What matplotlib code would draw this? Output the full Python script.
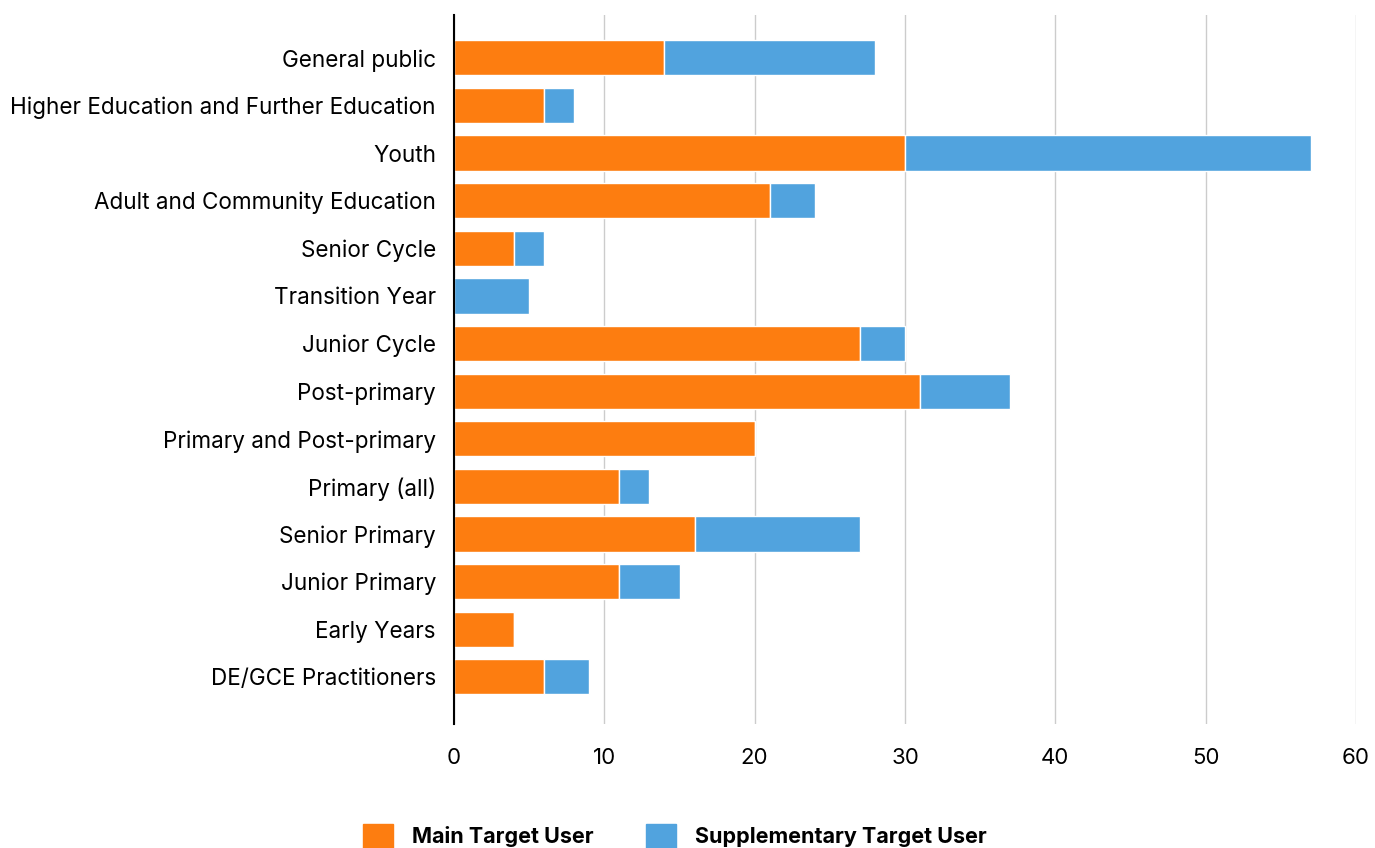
import matplotlib.pyplot as plt
from matplotlib.patches import Patch

plt.rcParams['font.family'] = ['Inter', 'DejaVu Sans']

categories = [
    "General public",
    "Higher Education and Further Education",
    "Youth",
    "Adult and Community Education",
    "Senior Cycle",
    "Transition Year",
    "Junior Cycle",
    "Post-primary",
    "Primary and Post-primary",
    "Primary (all)",
    "Senior Primary",
    "Junior Primary",
    "Early Years",
    "DE/GCE Practitioners",
]
main_users = [14, 6, 30, 21, 4, 0, 27, 31, 20, 11, 16, 11, 4, 6]
supp_users = [14, 2, 27, 3, 2, 5, 3, 6, 0, 2, 11, 4, 0, 3]

orange = '#FD7D10'
blue = '#51A3DE'

fig = plt.figure(figsize=(13.75, 8.48), dpi=100)
ax = fig.add_axes([454 / 1375, 1 - 724 / 848, 902 / 1375, 709 / 848])

ypos = list(range(len(categories)))
ax.barh(ypos, main_users, height=0.74, color=orange, edgecolor='white', linewidth=1)
ax.barh(ypos, supp_users, left=main_users, height=0.74, color=blue,
        edgecolor='white', linewidth=1)

ax.set_ylim(13.99, -0.9)
ax.set_xlim(0, 60)
ax.set_yticks(ypos)
ax.set_yticklabels(categories, fontsize=16.2, va='center_baseline')
ax.set_xticks(range(0, 61, 10))
ax.tick_params(axis='x', labelsize=16, length=0, pad=17)
ax.tick_params(axis='y', length=0, pad=13)
ax.grid(axis='x', color='#CCCCCC', linewidth=1)
ax.set_axisbelow(True)
for s in ['top', 'right', 'bottom']:
    ax.spines[s].set_visible(False)
ax.spines['left'].set_color('black')
ax.spines['left'].set_linewidth(1.5)
ax.spines['left'].set_zorder(5)

handles = [Patch(color=orange, label='Main Target User'),
           Patch(color=blue, label='Supplementary Target User')]
fig.legend(handles=handles, loc='center', bbox_to_anchor=(675 / 1375, 1 - 836 / 848),
           ncol=2, frameon=False, prop={'weight': 'bold', 'size': 15.5},
           handlelength=1.4, handleheight=1.4, handletextpad=0.9, columnspacing=2.4)

fig.savefig('out.png', dpi=100)
